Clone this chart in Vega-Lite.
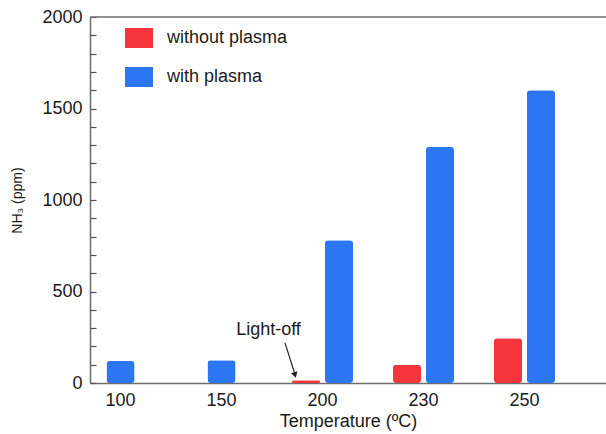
{
  "$schema": "https://vega.github.io/schema/vega-lite/v6.json",
  "width": 516,
  "height": 366,
  "autosize": {"type": "none"},
  "padding": {"left": 90, "top": 17, "right": 0, "bottom": 51},
  "background": "white",
  "config": {
    "view": {"stroke": null},
    "font": "Liberation Sans",
    "axis": {"labelColor": "#1a1a1a", "titleColor": "#1a1a1a", "domainColor": "#6e6e6e", "domainWidth": 1.5, "tickColor": "#6e6e6e", "grid": false}
  },
  "resolve": {"axis": {"y": "independent"}},
  "datasets": {
    "bars": [
      {"temp": "100", "series": "with plasma", "value": 120},
      {"temp": "150", "series": "with plasma", "value": 125},
      {"temp": "200", "series": "without plasma", "value": 15},
      {"temp": "200", "series": "with plasma", "value": 780},
      {"temp": "230", "series": "without plasma", "value": 100},
      {"temp": "230", "series": "with plasma", "value": 1290},
      {"temp": "250", "series": "without plasma", "value": 245},
      {"temp": "250", "series": "with plasma", "value": 1600}
    ],
    "note": [{"temp": "200", "value": 290, "label": "Light-off"}],
    "arrow": [{"temp": "200", "from": 219, "to": 55, "head": 44}],
    "frame": [{"value": 2000}]
  },
  "data": {"name": "bars"},
  "layer": [
    {
      "data": {"name": "frame"},
      "mark": {"type": "rule", "color": "#6e6e6e", "strokeWidth": 1.5},
      "encoding": {
        "y": {
          "field": "value", "type": "quantitative",
          "scale": {"domain": [0, 2000], "nice": false},
          "axis": {
            "orient": "left",
            "tickCount": 4,
            "format": "d",
            "labelOverlap": false,
            "ticks": false,
            "labelFontSize": 18, "labelPadding": 8,
            "titleFontSize": 14, "titleFontWeight": "normal", "titlePadding": 17
          },
          "title": "NH₃ (ppm)"
        }
      }
    },
    {
      "transform": [{"filter": {"field": "temp", "oneOf": ["200", "230", "250"]}}],
      "mark": {"type": "bar", "cornerRadius": 3},
      "encoding": {
        "x": {
          "field": "temp", "type": "nominal",
          "scale": {"domain": ["100", "150", "200", "230", "250"], "paddingInner": 0.396, "paddingOuter": 0.2525, "align": 0},
          "axis": {"labelAngle": 0, "labelFontSize": 18, "ticks": false, "labelPadding": 8, "titleFontSize": 18, "titleFontWeight": "normal", "titlePadding": 3},
          "title": "Temperature  (ºC)"
        },
        "xOffset": {"field": "series", "type": "nominal", "scale": {"domain": ["without plasma", "with plasma"], "paddingInner": 0.15}},
        "y": {"field": "value", "type": "quantitative", "axis": null},
        "color": {
          "field": "series", "type": "nominal",
          "scale": {"domain": ["without plasma", "with plasma"], "range": ["#f5343b", "#2d76f2"]},
          "legend": {
            "orient": "none", "legendX": 39, "legendY": 11, "title": null, "padding": 0,
            "symbolType": "M-1.4,-1H1.4V1H-1.4Z", "symbolSize": 400, "symbolStrokeWidth": 0,
            "labelFontSize": 18, "labelColor": "#1a1a1a", "rowPadding": 19, "labelOffset": 18
          }
        }
      }
    },
    {
      "transform": [{"filter": {"field": "temp", "oneOf": ["100", "150"]}}],
      "mark": {"type": "bar", "cornerRadius": 3, "width": {"band": 0.46}},
      "encoding": {
        "x": {"field": "temp", "type": "nominal"},
        "y": {
          "field": "value", "type": "quantitative",
          "axis": {"orient": "left", "offset": -6, "tickCount": 20, "labels": false, "domain": false, "ticks": true, "tickSize": 6, "tickWidth": 1.2, "tickColor": "#555555", "title": null}
        },
        "color": {"field": "series", "type": "nominal"}
      }
    },
    {
      "data": {"name": "note"},
      "mark": {"type": "text", "fontSize": 18, "dx": -54, "color": "#1a1a1a"},
      "encoding": {
        "x": {"field": "temp", "type": "nominal"},
        "y": {"field": "value", "type": "quantitative", "axis": null},
        "text": {"field": "label"}
      }
    },
    {
      "data": {"name": "arrow"},
      "mark": {"type": "rule", "color": "#222", "strokeWidth": 1.2, "xOffset": -37.5, "x2Offset": -28},
      "encoding": {
        "x": {"field": "temp", "type": "nominal"},
        "x2": {"field": "temp"},
        "y": {"field": "from", "type": "quantitative", "axis": null},
        "y2": {"field": "to"}
      }
    },
    {
      "data": {"name": "arrow"},
      "mark": {"type": "point", "shape": "triangle-down", "filled": true, "color": "#222", "size": 45, "angle": 343, "xOffset": -27.5, "opacity": 1},
      "encoding": {
        "x": {"field": "temp", "type": "nominal"},
        "y": {"field": "head", "type": "quantitative", "axis": null}
      }
    }
  ]
}
